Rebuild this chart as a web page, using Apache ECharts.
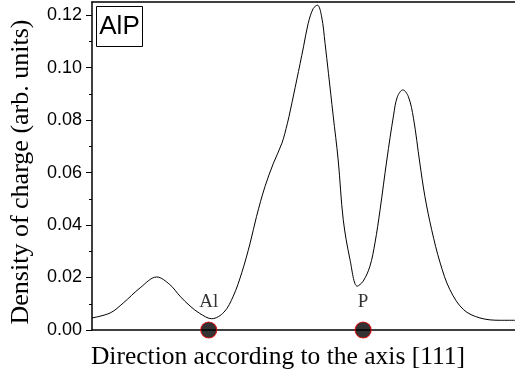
<!DOCTYPE html>
<html>
<head>
<meta charset="utf-8">
<script src="https://cdn.jsdelivr.net/npm/echarts@6/dist/echarts.min.js"></script>
<style>
  html, body { margin: 0; padding: 0; background: #fff; }
  #chart { width: 515px; height: 375px; }
</style>
</head>
<body>
<div id="chart"></div>
<script>
// Position along the [111] direction (arbitrary units, 0..100)
const positions = [
  0, 4.3, 7.4, 11.4, 15.3, 18.4, 20.8, 23.2, 25.5, 28.3, 31.2, 33.4, 35.4, 37.4, 38.9,
  40.9, 42.9, 44.9, 46.2, 46.9, 48.4, 50.0, 51.1, 52.3, 53.3, 54.3, 55.1, 55.9, 57.0,
  58.2, 59.4, 61.0, 62.7, 64.1, 65.7, 66.9, 68.1, 69.7, 71.3, 72.2, 73.5, 74.8, 76.0,
  77.5, 78.7, 80.3, 82.3, 84.6, 87.8, 91.7, 96.5, 100
];
// Charge density (arb. units)
const density = [
  0.0046, 0.0065, 0.0103, 0.0161, 0.0202, 0.0173, 0.0129, 0.0091, 0.0063, 0.0043, 0.0068, 0.0129, 0.0218, 0.0332, 0.0433,
  0.0547, 0.0636, 0.0712, 0.0788, 0.0838, 0.0953, 0.1079, 0.1168, 0.1225, 0.1238, 0.1193, 0.1092, 0.0978, 0.0819,
  0.0648, 0.0420, 0.0268, 0.0167, 0.0186, 0.0243, 0.0332, 0.0458, 0.0648, 0.0819, 0.0889, 0.0915, 0.0889, 0.0807,
  0.0636, 0.0509, 0.0382, 0.0256, 0.0154, 0.0078, 0.0046, 0.0037, 0.0037
];
// Atom sites on the axis
const atomNames = ['Al', 'P'];
const atomPositions = [27.6, 64.1];
// Y axis ticks
const yMajorTicks = [0, 0.02, 0.04, 0.06, 0.08, 0.10, 0.12];
const yMinorTicks = [0.01, 0.03, 0.05, 0.07, 0.09, 0.11];

const serif = '"Liberation Serif", "Times New Roman", serif';
const sans = '"Liberation Sans", Arial, sans-serif';

const chart = echarts.init(document.getElementById('chart'), null, { renderer: 'canvas' });

const grid = { left: 92, right: 0, top: 2, bottom: 45, containLabel: false };
const yBase = {
  type: 'value', min: 0, max: 0.125, gridIndex: 0,
  splitLine: { show: false }, minorSplitLine: { show: false }
};

chart.setOption({
  animation: false,
  backgroundColor: '#fff',
  grid: grid,
  xAxis: [
    {
      type: 'value', min: 0, max: 100, position: 'bottom',
      axisLine: { show: true, onZero: false, lineStyle: { color: '#000', width: 1.5 } },
      axisTick: { show: false }, axisLabel: { show: false }, splitLine: { show: false }
    },
    {
      type: 'value', min: 0, max: 100, position: 'top',
      axisLine: { show: true, onZero: false, lineStyle: { color: '#000', width: 1.5 } },
      axisTick: { show: false }, axisLabel: { show: false }, splitLine: { show: false }
    }
  ],
  yAxis: [
    Object.assign({}, yBase, {
      position: 'left',
      axisLine: { show: true, onZero: false, lineStyle: { color: '#000', width: 1.5 } },
      axisTick: { show: true, inside: false, length: 6, customValues: yMajorTicks, lineStyle: { color: '#000', width: 1 } },
      axisLabel: {
        show: true, customValues: yMajorTicks, margin: 10,
        fontFamily: sans, fontSize: 18, color: '#000',
        formatter: v => v.toFixed(2)
      }
    }),
    Object.assign({}, yBase, {
      position: 'left',
      axisLine: { show: false },
      axisTick: { show: true, inside: false, length: 3, customValues: yMinorTicks, lineStyle: { color: '#000', width: 1 } },
      axisLabel: { show: false }
    })
  ],
  series: [
    {
      type: 'line',
      xAxisIndex: 0, yAxisIndex: 0,
      data: positions.map((x, i) => [x, density[i]]),
      showSymbol: false, symbol: 'none',
      lineStyle: { color: '#000', width: 1 },
      smooth: 0.35
    },
    {
      type: 'scatter',
      xAxisIndex: 0, yAxisIndex: 0,
      clip: false, z: 5,
      data: atomPositions.map((x, i) => ({ name: atomNames[i], value: [x, 0] })),
      symbol: 'circle', symbolSize: 16,
      itemStyle: { color: '#000', borderColor: '#e00000', borderWidth: 1.2 },
      label: {
        show: true, position: 'top', distance: 10,
        formatter: p => p.name,
        fontFamily: serif, fontSize: 19, color: '#000'
      }
    }
  ],
  graphic: [
    {
      type: 'text', x: 278, y: 357,
      style: {
        text: 'Direction according to the axis [111]',
        font: '25.5px ' + serif, fill: '#000',
        align: 'center', verticalAlign: 'middle'
      }
    },
    {
      type: 'text', x: 21, y: 172, rotation: Math.PI / 2,
      style: {
        text: 'Density of charge (arb. units)',
        font: '26px ' + serif, fill: '#000',
        align: 'center', verticalAlign: 'middle'
      }
    },
    {
      type: 'rect', shape: { x: 96.5, y: 6.5, width: 46, height: 40 },
      style: { fill: '#fff', stroke: '#000', lineWidth: 1 }, z: 10
    },
    {
      type: 'text', x: 119.5, y: 27, z: 11,
      style: {
        text: 'AlP', font: '26px ' + sans, fill: '#000',
        align: 'center', verticalAlign: 'middle'
      }
    }
  ]
});
</script>
</body>
</html>
